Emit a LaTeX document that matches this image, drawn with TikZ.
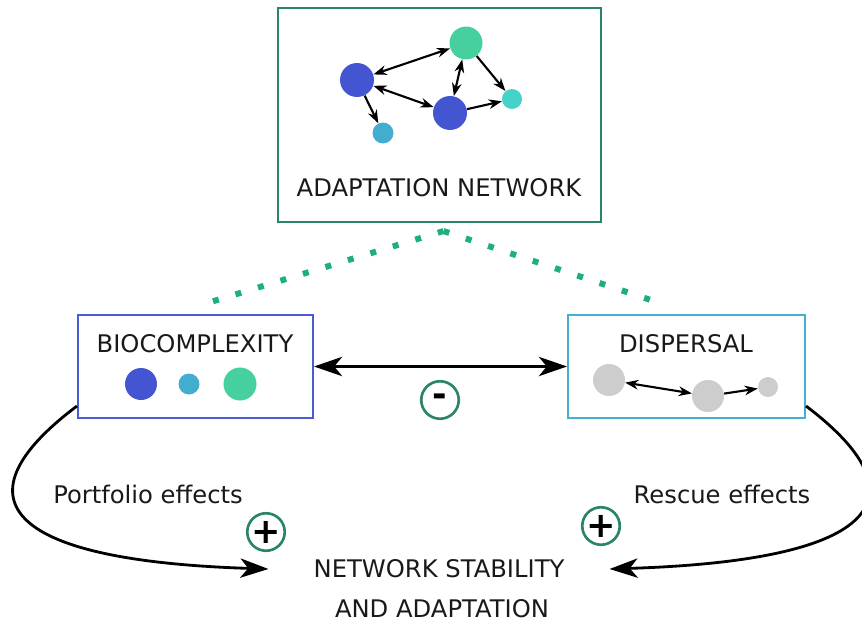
\documentclass[tikz,border=0pt]{standalone}
\usepackage{fontspec}
\setmainfont{DejaVu Sans}
\usetikzlibrary{arrows.meta}
\definecolor{boxgreen}{HTML}{2A8466}
\definecolor{dotgreen}{HTML}{1DB07E}
\definecolor{boxblue}{HTML}{4A5BD4}
\definecolor{boxcyan}{HTML}{45AFD2}
\definecolor{netblue}{HTML}{4455D2}
\definecolor{netgreen}{HTML}{45D09E}
\definecolor{netcyan}{HTML}{43ADD0}
\definecolor{netteal}{HTML}{45D2C9}
\definecolor{spotgrey}{HTML}{CDCDCD}

\begin{document}
\begin{tikzpicture}[x=0.02cm, y=-0.02cm,
  every node/.style={font=\fontsize{13.8}{16}\selectfont, text=black!90},
  spot/.style={circle, inner sep=0pt},
  panel/.style={draw, line width=1.2pt, inner sep=0pt},
  link/.style={line width=1.2pt, >={Stealth[length=7.5pt, width=5.5pt]}},
  effect/.style={line width=1.6pt, >={Stealth[length=16pt, width=11pt, inset=4.5pt]}},
  sign/.style={circle, draw=boxgreen, line width=1.5pt, minimum size=0.75cm, inner sep=0pt, font=\fontsize{20}{20}\selectfont\bfseries, text=black},
  adaptlink/.style={dotgreen, line width=0.12cm, dash pattern=on 0.12cm off 0.35cm}]
			\useasboundingbox (0,0) rectangle (862,622);

			% Boxes
			\node[panel, draw=boxgreen, minimum width=6.46cm, minimum height=4.28cm] (net) at (439.5,115) {};
			\node[panel, draw=boxblue, minimum width=4.7cm, minimum height=2.06cm] (bio) at (195.5,366.5) {};
			\node[panel, draw=boxcyan, minimum width=4.74cm, minimum height=2.06cm] (disp) at (686.5,366.5) {};

			% Labels
			\node (netlab) at (439,188) {ADAPTATION NETWORK};
			\node (biolab) at (195,344) {BIOCOMPLEXITY};
			\node (displab) at (686,344) {DISPERSAL};
			\node (stab) at (439,569) {NETWORK STABILITY};
			\node (adapt) at (442,609) {AND ADAPTATION};
			\node (port) at (148,494) {Portfolio effects};
			\node (resc) at (722,494) {Rescue effects};

			% Network
			\node[spot, fill=netblue, minimum size=0.68cm] (a) at (357,80) {};
			\node[spot, fill=netgreen, minimum size=0.66cm] (b) at (466,43) {};
			\node[spot, fill=netblue, minimum size=0.68cm] (c) at (450,113) {};
			\node[spot, fill=netteal, minimum size=0.4cm] (d) at (512,99) {};
			\node[spot, fill=netcyan, minimum size=0.42cm] (e) at (383,133) {};
			\draw[link, <->] (a) -- (b);
			\draw[link, <->] (a) -- (c);
			\draw[link, <->] (b) -- (c);
			\draw[link, ->] (b) -- (d);
			\draw[link, ->] (c) -- (d);
			\draw[link, ->] (a) -- (e);

			% Biocomplexity
			\node[spot, fill=netblue, minimum size=0.64cm] (b1) at (141,384) {};
			\node[spot, fill=netcyan, minimum size=0.42cm] (b2) at (189,384) {};
			\node[spot, fill=netgreen, minimum size=0.66cm] (b3) at (240,384) {};

			% Dispersal
			\node[spot, fill=spotgrey, minimum size=0.64cm] (g1) at (609,380) {};
			\node[spot, fill=spotgrey, minimum size=0.64cm] (g2) at (708,396) {};
			\node[spot, fill=spotgrey, minimum size=0.4cm] (g3) at (768,387) {};
			\draw[link, <->] (g1) -- (g2);
			\draw[link, ->] (g2) -- (g3);

			% Dotted links
			\coordinate (peak) at ([shift={(4,8)}]net.south);
			\draw[adaptlink] (peak) -- ([shift={(12,-11)}]bio.north);
			\draw[adaptlink] (peak) -- ([shift={(-30,-12)}]disp.north);

			% Effects
			\draw[effect, <->] (bio.east) -- (disp.west);
			\node[sign] (minus) at (440,400) {-};
			\draw[effect, ->] ([yshift=0.26cm]bio.south west) .. controls (-35,490) and (-15,560) .. ([xshift=-0.78cm]stab.west);
			\draw[effect, ->] ([yshift=0.26cm]disp.south east) .. controls (917,490) and (897,560) .. ([xshift=0.78cm]stab.east);
			\node[sign] (plusl) at (266,532) {+};
			\node[sign] (plusr) at (601,526) {+};
		\end{tikzpicture}
\end{document}
